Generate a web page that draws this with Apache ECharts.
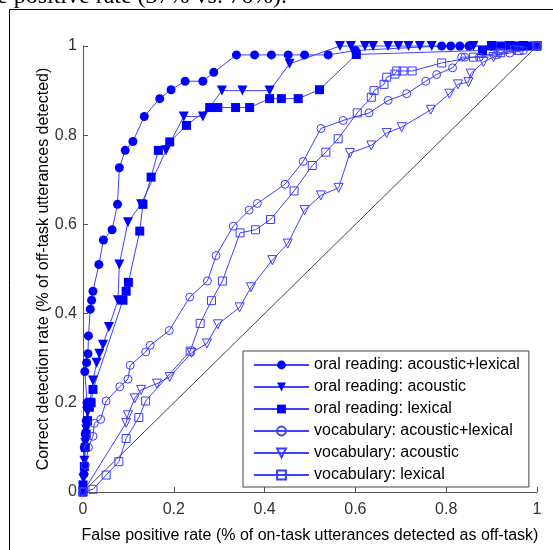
<!DOCTYPE html>
<html><head><meta charset="utf-8">
<script src="https://cdn.jsdelivr.net/npm/echarts@6.0.0/dist/echarts.min.js"></script>
<style>html,body{margin:0;padding:0;background:#fff}#c{width:553px;height:550px}</style>
</head><body><div id="c"></div>
<script>
const seriesNames = [
  'oral reading: acoustic+lexical',
  'oral reading: acoustic',
  'oral reading: lexical',
  'vocabulary: acoustic+lexical',
  'vocabulary: acoustic',
  'vocabulary: lexical'
];
const xTicks = [0, 0.2, 0.4, 0.6, 0.8, 1];
const yTicks = [0, 0.2, 0.4, 0.6, 0.8, 1];

const oralAcLex = [[0,0],[0.002,0.04],[0.003,0.10],[0.005,0.13],[0.007,0.16],[0.009,0.19],[0.009,0.20],[0.004,0.27],[0.008,0.29],[0.011,0.31],[0.012,0.35],[0.016,0.41],[0.019,0.43],[0.022,0.45],[0.035,0.51],[0.045,0.565],[0.064,0.588],[0.076,0.645],[0.08,0.727],[0.093,0.766],[0.11,0.786],[0.135,0.842],[0.169,0.882],[0.194,0.902],[0.225,0.921],[0.264,0.921],[0.288,0.941],[0.338,0.98],[0.378,0.98],[0.415,0.98],[0.452,0.98],[0.488,0.98],[0.54,0.98],[0.6,0.99],[0.79,1],[0.81,1],[0.83,1],[0.85,1],[0.9,1],[0.95,1],[1,1]];
const oralAc = [[0,0],[0.001,0.03],[0.003,0.07],[0.005,0.11],[0.007,0.14],[0.01,0.18],[0.015,0.2],[0.022,0.25],[0.03,0.29],[0.036,0.31],[0.044,0.33],[0.057,0.37],[0.077,0.43],[0.08,0.51],[0.099,0.605],[0.128,0.645],[0.183,0.766],[0.222,0.842],[0.264,0.842],[0.306,0.9],[0.351,0.9],[0.411,0.9],[0.455,0.96],[0.566,1],[0.59,1],[0.621,1],[0.639,1],[0.672,1],[0.695,1],[0.717,1],[0.742,1],[0.768,1],[0.86,1],[0.9,1],[0.94,1],[0.97,1],[1,1]];
const oralLex = [[0,0],[0,0.016],[0.003,0.057],[0.005,0.1],[0.007,0.13],[0.01,0.16],[0.014,0.19],[0.018,0.2],[0.022,0.23],[0.088,0.43],[0.095,0.45],[0.1,0.47],[0.125,0.585],[0.132,0.645],[0.15,0.706],[0.166,0.766],[0.191,0.785],[0.228,0.822],[0.279,0.862],[0.297,0.862],[0.336,0.862],[0.367,0.862],[0.411,0.882],[0.437,0.882],[0.474,0.882],[0.521,0.902],[0.602,0.981],[0.88,0.99],[0.9,1],[0.92,1],[0.94,1],[0.96,1],[0.98,1],[1,1]];
const vocAcLex = [[0,0],[0.005,0.06],[0.012,0.1],[0.022,0.125],[0.025,0.154],[0.039,0.163],[0.051,0.204],[0.081,0.236],[0.099,0.253],[0.104,0.284],[0.138,0.314],[0.148,0.329],[0.19,0.362],[0.235,0.437],[0.274,0.473],[0.293,0.53],[0.331,0.596],[0.366,0.632],[0.384,0.647],[0.445,0.69],[0.485,0.741],[0.524,0.815],[0.573,0.833],[0.63,0.85],[0.672,0.878],[0.713,0.893],[0.755,0.921],[0.779,0.936],[0.814,0.951],[0.834,0.975],[0.841,0.975],[0.873,0.975],[0.91,0.98],[0.94,0.984],[0.97,0.99],[1,1]];
const vocAc = [[0,0],[0.095,0.155],[0.099,0.172],[0.114,0.21],[0.128,0.229],[0.163,0.243],[0.191,0.258],[0.239,0.312],[0.273,0.333],[0.297,0.376],[0.345,0.414],[0.37,0.459],[0.417,0.52],[0.451,0.557],[0.488,0.632],[0.524,0.665],[0.563,0.682],[0.588,0.76],[0.635,0.777],[0.669,0.805],[0.702,0.818],[0.766,0.857],[0.807,0.893],[0.826,0.914],[0.849,0.919],[0.854,0.938],[0.882,0.964],[0.904,0.975],[0.918,0.982],[0.95,0.99],[1,1]];
const vocLex = [[0,0],[0.022,0.006],[0.051,0.038],[0.079,0.068],[0.095,0.12],[0.123,0.167],[0.138,0.204],[0.236,0.316],[0.258,0.378],[0.283,0.429],[0.307,0.473],[0.346,0.581],[0.38,0.588],[0.413,0.611],[0.465,0.675],[0.505,0.732],[0.535,0.762],[0.562,0.792],[0.604,0.85],[0.635,0.885],[0.641,0.9],[0.663,0.914],[0.669,0.93],[0.687,0.937],[0.691,0.944],[0.705,0.944],[0.725,0.944],[0.79,0.962],[0.86,0.975],[0.92,0.985],[0.96,0.99],[1,1]];
const chanceLine = [[0,0],[1,1]];

const FONT = '"Liberation Sans", Arial, sans-serif';
const LINE = '#4040ff';
const FILL = '#0000ff';

function mk(name, data, symbol, size, filled, rotate) {
  return {
    name, type: 'line', data, symbol, symbolSize: size, symbolRotate: rotate || 0,
    clip: false, showSymbol: true, animation: false,
    lineStyle: { color: LINE, width: 1 },
    itemStyle: filled ? { color: FILL, borderColor: FILL, borderWidth: 0 }
                      : { color: 'rgba(255,255,255,0)', borderColor: '#3c3cff', borderWidth: 1 },
    emphasis: { disabled: true }
  };
}

const chart = echarts.init(document.getElementById('c'), null, { renderer: 'canvas' });
chart.setOption({
  animation: false,
  backgroundColor: '#fff',
  textStyle: { fontFamily: FONT },
  graphic: [
    { type: 'polyline', shape: { points: [[9.5, 560], [9.5, 9.5], [560, 9.5]] }, style: { stroke: '#000', lineWidth: 1, fill: null }, silent: true },
    { type: 'text', x: -3, y: 9, style: { text: 'e positive rate (37% vs. 76%).', font: '24px "Liberation Serif", "Times New Roman", serif', fill: '#000', verticalAlign: 'bottom', align: 'left' }, silent: true }
  ],
  grid: { left: 83, right: 16, top: 46, bottom: 58, outerBoundsMode: 'none', containLabel: false },
  xAxis: {
    type: 'value', min: xTicks[0], max: xTicks[xTicks.length - 1], interval: xTicks[1] - xTicks[0],
    name: 'False positive rate (% of on-task utterances detected as off-task)',
    nameLocation: 'middle', nameGap: 36,
    nameTextStyle: { fontSize: 16, color: '#000', fontFamily: FONT },
    axisLine: { show: true, lineStyle: { color: '#555', width: 1 } },
    axisTick: { show: true, inside: true, length: 5, lineStyle: { color: '#555' } },
    axisLabel: { fontSize: 16, color: '#333', margin: 10, fontFamily: FONT },
    splitLine: { show: false }
  },
  yAxis: {
    type: 'value', min: yTicks[0], max: yTicks[yTicks.length - 1], interval: yTicks[1] - yTicks[0],
    name: 'Correct detection rate (% of off-task utterances detected)',
    nameLocation: 'middle', nameGap: 31, nameMoveOverlap: false,
    nameTextStyle: { fontSize: 16, color: '#000', fontFamily: FONT },
    axisLine: { show: true, lineStyle: { color: '#555', width: 1 } },
    axisTick: { show: true, inside: true, length: 5, lineStyle: { color: '#555' } },
    axisLabel: { fontSize: 16, color: '#333', margin: 6, fontFamily: FONT },
    splitLine: { show: false }
  },
  legend: {
    data: seriesNames, orient: 'vertical', left: 243, top: 351,
    padding: [6, 9, 4, 10], itemGap: 6, itemWidth: 55, itemHeight: 11,
    backgroundColor: '#fff', borderColor: '#444', borderWidth: 1, borderRadius: 0,
    textStyle: { fontSize: 16, color: '#000', fontFamily: FONT },
    selectedMode: false
  },
  series: [
    { name: 'chance', type: 'line', data: chanceLine, symbol: 'none', silent: true,
      lineStyle: { color: '#444', width: 1 }, emphasis: { disabled: true }, z: 1 },
    mk(seriesNames[0], oralAcLex, 'circle', 9, true),
    mk(seriesNames[1], oralAc, 'triangle', 10, true, 180),
    mk(seriesNames[2], oralLex, 'rect', 9, true),
    mk(seriesNames[3], vocAcLex, 'circle', 8, false),
    mk(seriesNames[4], vocAc, 'triangle', 9, false, 180),
    mk(seriesNames[5], vocLex, 'rect', 8, false)
  ]
});
</script></body></html>
